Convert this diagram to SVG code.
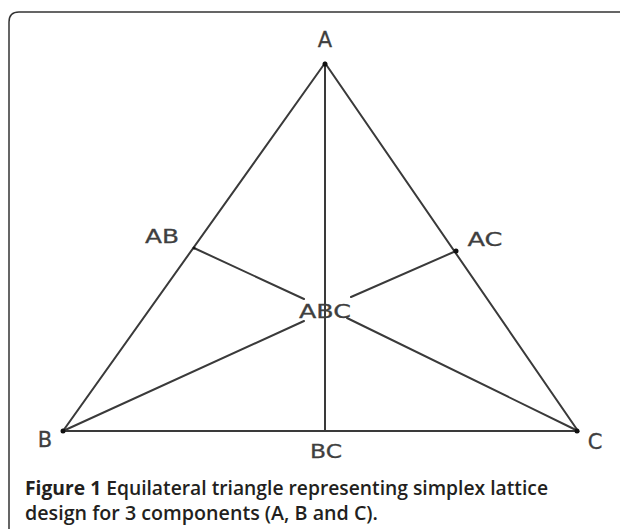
<svg xmlns="http://www.w3.org/2000/svg" width="620" height="529" viewBox="0 0 620 529">
<style>
.ln{stroke:#3a3a3a;stroke-width:2;fill:none;stroke-linecap:round}
.lb{font-family:"DejaVu Sans","Liberation Sans",sans-serif;font-size:19px;fill:#3f3f3f;text-anchor:middle;dominant-baseline:central;stroke:#3f3f3f;stroke-width:0.3}
.big{font-size:21px}
.cap{font-family:"Open Sans","Liberation Sans",sans-serif;font-size:19.5px;fill:#231f20;font-weight:600}
.dot{fill:#111}
</style>
<rect width="620" height="529" fill="#fff"/>
<path d="M9 560 V22 Q9 12 19 12 H640" fill="none" stroke="#333" stroke-width="1.5"/>
<g id="connectors">
<path class="ln" d="M325 63 L63 431 L578 431 Z"/>
<path class="ln" d="M325 63 V431"/>
<path class="ln" d="M194 248 L304 299"/>
<path class="ln" d="M63 431 L304 321"/>
<path class="ln" d="M456 251 L351 297"/>
<path class="ln" d="M578 431 L347 318"/>
</g>
<g id="A"><circle class="dot" cx="325" cy="64" r="2.5"/><text class="lb big" x="325" y="40">A</text></g>
<g id="B"><circle class="dot" cx="63" cy="431" r="2.5"/><text class="lb big" x="45" y="440">B</text></g>
<g id="C"><circle class="dot" cx="577" cy="431" r="2.5"/><text class="lb big" x="595" y="442">C</text></g>
<g id="AB"><circle class="dot" cx="194" cy="248" r="1.5"/><text class="lb" x="162" y="236" textLength="34" lengthAdjust="spacingAndGlyphs">AB</text></g>
<g id="AC"><circle class="dot" cx="456" cy="251" r="2.5"/><text class="lb" x="485" y="239" textLength="35" lengthAdjust="spacingAndGlyphs">AC</text></g>
<g id="BC"><text class="lb" x="326" y="451" textLength="32" lengthAdjust="spacingAndGlyphs">BC</text></g>
<g id="ABC"><text class="lb" x="325" y="311" textLength="52" lengthAdjust="spacingAndGlyphs" font-size="21">ABC</text></g>
<g id="caption">
<text class="cap" x="25" y="495" textLength="523" lengthAdjust="spacingAndGlyphs"><tspan font-weight="700">Figure 1</tspan> Equilateral triangle representing simplex lattice</text>
<text class="cap" x="25" y="520" textLength="353" lengthAdjust="spacingAndGlyphs">design for 3 components (A, B and C).</text>
</g>
</svg>
